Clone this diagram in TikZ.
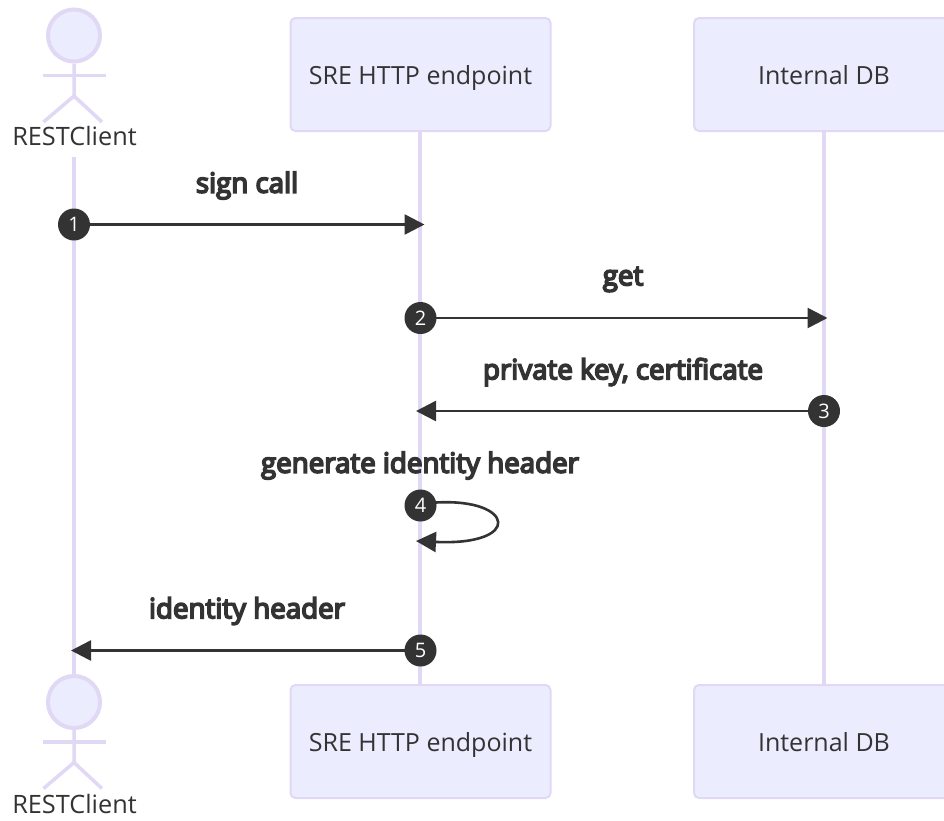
\documentclass[tikz,border=0pt]{standalone}
\usepackage{fontspec}
\setmainfont{Open Sans}
\newfontfamily\msgfont[RawFeature={embolden=6}]{Open Sans}
\usetikzlibrary{arrows.meta}
\definecolor{fillc}{HTML}{ECECFF}
\definecolor{linec}{HTML}{E0D8F5}
\definecolor{inkc}{HTML}{333333}
\tikzset{
  x=1pt,y=-1pt,
  box/.style={draw=linec,fill=fillc,line width=2pt,rounded corners=5pt,minimum width=260pt,minimum height=113pt,inner sep=0pt,text=inkc,text height=20pt,text depth=0pt,font=\fontsize{25}{28}\selectfont},
  lifeline/.style={draw=linec,line width=4pt},
  actorline/.style={draw=linec,line width=3.5pt},
  actorhead/.style={circle,draw=linec,fill=fillc,line width=4pt,minimum size=52pt,inner sep=0pt},
  actorname/.style={text=inkc,inner sep=0pt,font=\fontsize{25.3}{28}\selectfont},
  msg/.style={text=inkc,inner sep=0pt,font=\msgfont\fontsize{27.7}{30}\selectfont},
  seq/.style={circle,fill=inkc,minimum size=32pt,inner sep=0pt,text=white,font=\fontsize{20}{22}\selectfont},
  arrowline/.style={draw=inkc,line width=2.6pt,-{Triangle[length=20pt,width=20pt]}},
}
\begin{document}
\begin{tikzpicture}
\useasboundingbox (0,0) rectangle (944,820);
\clip (0,0) rectangle (944,820);
\fill[white] (0,0) rectangle (944,820);
% lifeline end points
\coordinate (lla) at (74,157);
\coordinate (srea) at (420.5,74.5);
\coordinate (dba) at (824,74.5);
\coordinate (sreb) at (420.5,741.5);
\coordinate (dbb) at (824,741.5);
\coordinate (headbc) at (74,702);
\draw[lifeline] (lla) -- (headbc);
\draw[lifeline] (420,75) -- (420,741);
\draw[lifeline] (dba) -- (dbb);
% boxes
\node[box] (sretop) at (srea) {SRE HTTP endpoint};
\node[box] (dbtop) at (dba) {Internal DB};
\node[box] (srebot) at (sreb) {SRE HTTP endpoint};
\node[box] (dbbot) at (dbb) {Internal DB};
% actors
\node[actorname] (cla) at (74.5,136.5) {RESTClient};
\node[actorname] (clb) at (74.5,803.5) {RESTClient};
\node[actorhead] (heada) at (74,35.5) {};
\node[actorhead] (headb) at (headbc) {};
\foreach \h/\y in {heada/0,headb/666.5}{
  \coordinate (hip) at (74,96+\y);
  \coordinate (arml) at (43,75.5+\y);
  \coordinate (armr) at (105.5,75.5+\y);
  \coordinate (legl) at (43.5,122+\y);
  \coordinate (legr) at (102,122+\y);
  \draw[actorline] (\h.south) -- (hip) -- (legl);
  \draw[actorline] (hip) -- (legr);
  \draw[actorline] (arml) -- (armr);
}
% messages
\coordinate (c1) at (74,224.5);
\coordinate (c2) at (420.5,318);
\coordinate (c3) at (824,411);
\coordinate (c4) at (420.5,505.5);
\coordinate (c5) at (420.5,650.5);
\coordinate (t1) at (424.5,224.5);
\coordinate (t2) at (827.5,318);
\coordinate (t3) at (416,411);
\coordinate (t4) at (416,541);
\coordinate (t5) at (71,650.5);
\coordinate (l4) at (436,502.5);
\draw[arrowline] (c1) -- (t1);
\draw[arrowline] (c2) -- (t2);
\draw[arrowline] (c3) -- (t3);
\draw[arrowline] (c5) -- (t5);
\draw[arrowline] (l4) .. controls (515,498) and (523,546) .. (t4);
\node[seq] (s1) at (c1) {1};
\node[seq] (s2) at (c2) {2};
\node[seq] (s3) at (c3) {3};
\node[seq] (s4) at (c4) {4};
\node[seq] (s5) at (c5) {5};
\node[msg] (m1) at (247,185.5) {sign call};
\node[msg] (m2) at (623,279.5) {get};
\node[msg] (m3) at (623,372) {private key, certificate};
\node[msg] (m4) at (420,465.5) {generate identity header};
\node[msg] (m5) at (247,611) {identity header};
\end{tikzpicture}
\end{document}
